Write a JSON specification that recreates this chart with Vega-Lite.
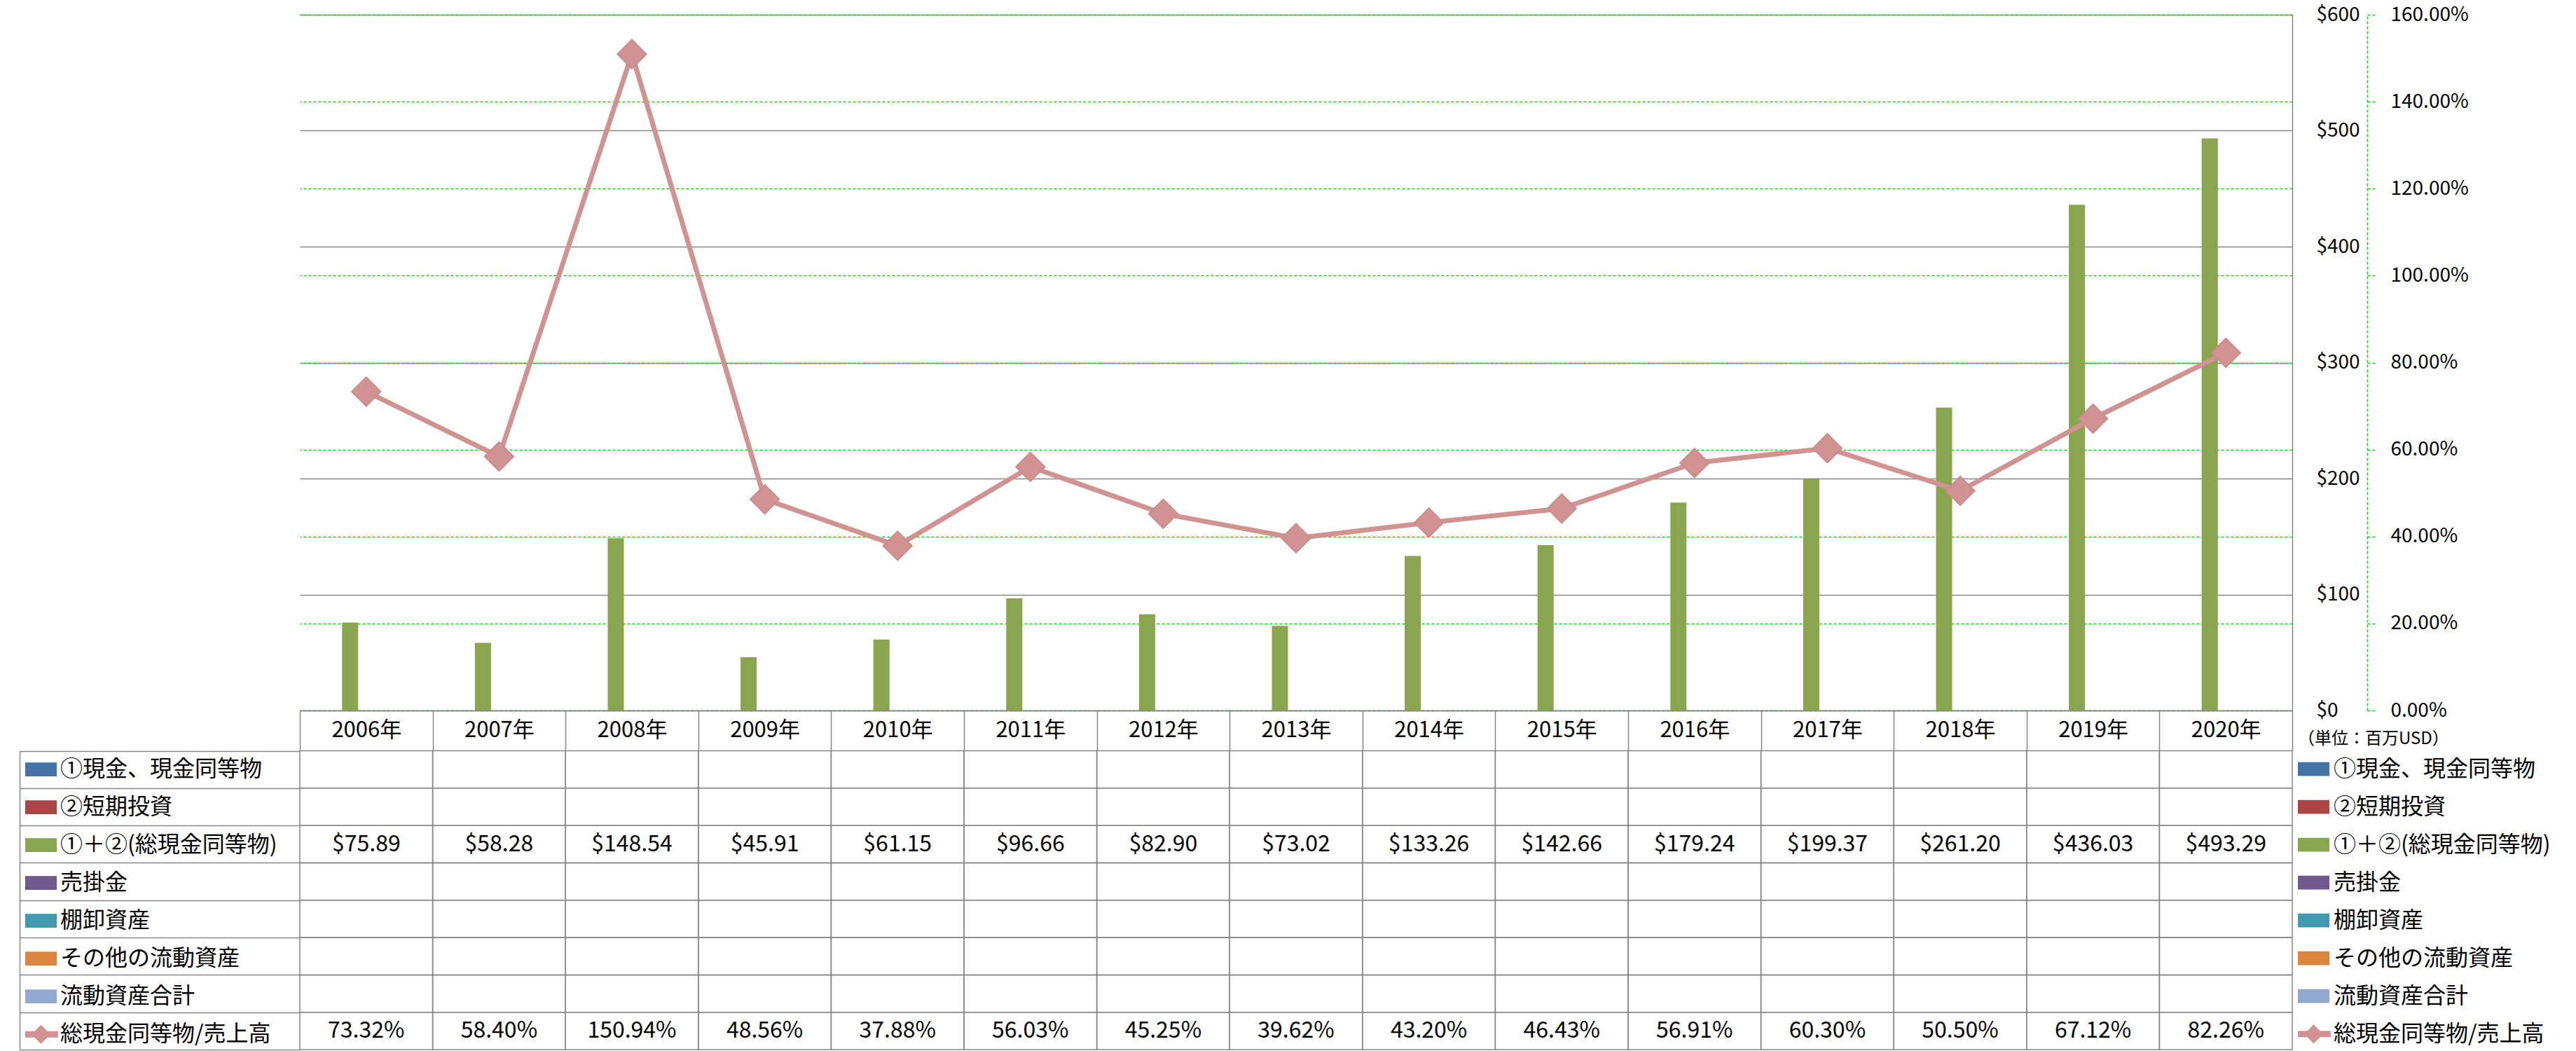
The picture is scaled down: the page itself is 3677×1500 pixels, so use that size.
{
  "$schema": "https://vega.github.io/schema/vega-lite/v6.json",
  "width": 2844,
  "height": 993,
  "autosize": {"type": "none"},
  "padding": {"left": 428, "top": 21, "right": 405, "bottom": 486},
  "background": "white",
  "config": {
    "font": "Noto Sans CJK JP",
    "view": {"stroke": null},
    "axisX": {
      "tickBand": "extent", "tickSize": 57, "tickColor": "#868686", "tickWidth": 1.5,
      "domainColor": "#868686", "domainWidth": 1.5,
      "labelFontSize": 31, "labelColor": "#000000", "labelBaseline": "middle", "labelPadding": -28.5,
      "labelAngle": 0, "grid": false, "title": null
    }
  },
  "datasets": {
    "t": [
      {"year": "2006年", "①現金、現金同等物": null, "②短期投資": null, "①＋②(総現金同等物)": 75.89, "売掛金": null, "棚卸資産": null, "その他の流動資産": null, "流動資産合計": null, "総現金同等物/売上高": 0.7332},
      {"year": "2007年", "①現金、現金同等物": null, "②短期投資": null, "①＋②(総現金同等物)": 58.28, "売掛金": null, "棚卸資産": null, "その他の流動資産": null, "流動資産合計": null, "総現金同等物/売上高": 0.5840},
      {"year": "2008年", "①現金、現金同等物": null, "②短期投資": null, "①＋②(総現金同等物)": 148.54, "売掛金": null, "棚卸資産": null, "その他の流動資産": null, "流動資産合計": null, "総現金同等物/売上高": 1.5094},
      {"year": "2009年", "①現金、現金同等物": null, "②短期投資": null, "①＋②(総現金同等物)": 45.91, "売掛金": null, "棚卸資産": null, "その他の流動資産": null, "流動資産合計": null, "総現金同等物/売上高": 0.4856},
      {"year": "2010年", "①現金、現金同等物": null, "②短期投資": null, "①＋②(総現金同等物)": 61.15, "売掛金": null, "棚卸資産": null, "その他の流動資産": null, "流動資産合計": null, "総現金同等物/売上高": 0.3788},
      {"year": "2011年", "①現金、現金同等物": null, "②短期投資": null, "①＋②(総現金同等物)": 96.66, "売掛金": null, "棚卸資産": null, "その他の流動資産": null, "流動資産合計": null, "総現金同等物/売上高": 0.5603},
      {"year": "2012年", "①現金、現金同等物": null, "②短期投資": null, "①＋②(総現金同等物)": 82.90, "売掛金": null, "棚卸資産": null, "その他の流動資産": null, "流動資産合計": null, "総現金同等物/売上高": 0.4525},
      {"year": "2013年", "①現金、現金同等物": null, "②短期投資": null, "①＋②(総現金同等物)": 73.02, "売掛金": null, "棚卸資産": null, "その他の流動資産": null, "流動資産合計": null, "総現金同等物/売上高": 0.3962},
      {"year": "2014年", "①現金、現金同等物": null, "②短期投資": null, "①＋②(総現金同等物)": 133.26, "売掛金": null, "棚卸資産": null, "その他の流動資産": null, "流動資産合計": null, "総現金同等物/売上高": 0.4320},
      {"year": "2015年", "①現金、現金同等物": null, "②短期投資": null, "①＋②(総現金同等物)": 142.66, "売掛金": null, "棚卸資産": null, "その他の流動資産": null, "流動資産合計": null, "総現金同等物/売上高": 0.4643},
      {"year": "2016年", "①現金、現金同等物": null, "②短期投資": null, "①＋②(総現金同等物)": 179.24, "売掛金": null, "棚卸資産": null, "その他の流動資産": null, "流動資産合計": null, "総現金同等物/売上高": 0.5691},
      {"year": "2017年", "①現金、現金同等物": null, "②短期投資": null, "①＋②(総現金同等物)": 199.37, "売掛金": null, "棚卸資産": null, "その他の流動資産": null, "流動資産合計": null, "総現金同等物/売上高": 0.6030},
      {"year": "2018年", "①現金、現金同等物": null, "②短期投資": null, "①＋②(総現金同等物)": 261.20, "売掛金": null, "棚卸資産": null, "その他の流動資産": null, "流動資産合計": null, "総現金同等物/売上高": 0.5050},
      {"year": "2019年", "①現金、現金同等物": null, "②短期投資": null, "①＋②(総現金同等物)": 436.03, "売掛金": null, "棚卸資産": null, "その他の流動資産": null, "流動資産合計": null, "総現金同等物/売上高": 0.6712},
      {"year": "2020年", "①現金、現金同等物": null, "②短期投資": null, "①＋②(総現金同等物)": 493.29, "売掛金": null, "棚卸資産": null, "その他の流動資産": null, "流動資産合計": null, "総現金同等物/売上高": 0.8226}
    ]
  },
  "data": {"name": "t"},
  "transform": [
    {"fold": ["①現金、現金同等物", "②短期投資", "①＋②(総現金同等物)", "売掛金", "棚卸資産", "その他の流動資産", "流動資産合計", "総現金同等物/売上高"], "as": ["series", "value"]}
  ],
  "resolve": {"scale": {"y": "independent"}},
  "layer": [
    {
      "mark": {"type": "rect", "fill": "transparent", "stroke": "#868686", "strokeWidth": 1.5},
      "encoding": {
        "x": {"field": "year", "type": "nominal", "sort": null, "scale": {"paddingInner": 0, "paddingOuter": 0}},
        "y": {"field": "series", "type": "nominal", "sort": null,
          "scale": {"domain": ["①現金、現金同等物", "②短期投資", "①＋②(総現金同等物)", "売掛金", "棚卸資産", "その他の流動資産", "流動資産合計", "総現金同等物/売上高"], "range": [1050.5, 1477], "paddingInner": 0, "paddingOuter": 0},
          "axis": {"orient": "left", "tickBand": "extent", "tickSize": 400, "tickColor": "#868686", "tickWidth": 1.5, "domain": false, "labels": false, "grid": false, "title": null}}
      }
    },
    {
      "mark": {"type": "point", "opacity": 0, "filled": true},
      "encoding": {
        "x": {"field": "year", "type": "nominal", "sort": null},
        "y": {"field": "series", "type": "nominal", "sort": null,
          "scale": {"domain": ["①現金、現金同等物", "②短期投資", "①＋②(総現金同等物)", "売掛金", "棚卸資産", "その他の流動資産", "流動資産合計", "総現金同等物/売上高"], "range": [1050.5, 1477], "paddingInner": 0, "paddingOuter": 0},
          "axis": {"orient": "left", "offset": 400, "domain": true, "domainColor": "#868686", "domainWidth": 1.5, "ticks": false, "labels": false, "grid": false, "title": null}},
        "fill": {"field": "series", "type": "nominal", "sort": null,
          "scale": {"range": ["#4572A7", "#AA4643", "#89A54E", "#71588F", "#4198AF", "#DB843D", "#93A9CF", "#D09392"]},
          "legend": {"orient": "none", "legendX": -392, "legendY": 1050.5, "title": null, "padding": 0, "clipHeight": 53.3, "rowPadding": 0,
            "symbolSize": 2025, "symbolStrokeWidth": 0, "symbolOpacity": 1, "labelFontSize": 32, "labelOffset": 5, "labelLimit": 600, "labelColor": "#000000",
            "encode": {"symbols": {"update": {
              "shape": {"signal": "datum.value === '総現金同等物/売上高' ? 'M-1.08,-0.2H-0.4L0,-0.6L0.4,-0.2H1.08V0.2H0.4L0,0.6L-0.4,0.2H-1.08Z' : 'M-1,-0.44H1V0.44H-1Z'"},
              "opacity": {"value": 1}, "fillOpacity": {"value": 1},
              "fill": {"scale": "fill", "field": "value"}}}}}}
      }
    },
    {
      "transform": [{"filter": "isValid(datum.value) && datum.series !== '総現金同等物/売上高'"}],
      "mark": {"type": "bar"},
      "encoding": {
        "x": {"field": "year", "type": "nominal", "sort": null},
        "xOffset": {"field": "series", "type": "nominal", "scale": {"domain": ["①現金、現金同等物", "②短期投資", "①＋②(総現金同等物)", "売掛金", "棚卸資産", "その他の流動資産", "流動資産合計"], "paddingInner": 0, "paddingOuter": 0.62}},
        "y": {"field": "value", "type": "quantitative",
          "scale": {"domain": [0, 600], "nice": false},
          "axis": {"orient": "right", "values": [0, 100, 200, 300, 400, 500, 600], "format": "$.0f",
            "grid": true, "gridColor": "#868686", "gridWidth": 1.5,
            "domain": true, "domainColor": "#868686", "domainWidth": 1.5,
            "ticks": false, "tickSize": 0, "labelPadding": 34, "labelAlign": "left", "labelBaseline": "middle",
            "labelFontSize": 28, "labelColor": "#000000", "title": null}},
        "color": {"field": "series", "type": "nominal",
          "scale": {"domain": ["①現金、現金同等物", "②短期投資", "①＋②(総現金同等物)", "売掛金", "棚卸資産", "その他の流動資産", "流動資産合計", "総現金同等物/売上高"], "range": ["#4572A7", "#AA4643", "#89A54E", "#71588F", "#4198AF", "#DB843D", "#93A9CF", "#D09392"]},
          "legend": {"orient": "none", "legendX": 2852, "legendY": 1022, "title": "（単位：百万USD）", "titleFontSize": 24, "titleFontWeight": "normal", "titleColor": "#000000", "titlePadding": 4, "titleLimit": 800,
            "padding": 0, "clipHeight": 53.3, "rowPadding": 0,
            "symbolSize": 2025, "symbolStrokeWidth": 0, "symbolOpacity": 1, "labelFontSize": 32, "labelOffset": 6, "labelLimit": 600, "labelColor": "#000000",
            "encode": {"symbols": {"update": {
              "shape": {"signal": "datum.value === '総現金同等物/売上高' ? 'M-1.08,-0.2H-0.4L0,-0.6L0.4,-0.2H1.08V0.2H0.4L0,0.6L-0.4,0.2H-1.08Z' : 'M-1,-0.44H1V0.44H-1Z'"},
              "opacity": {"value": 1}, "fillOpacity": {"value": 1},
              "fill": {"scale": "color", "field": "value"}, "stroke": {"value": "transparent"}}}}}}
      }
    },
    {
      "transform": [{"filter": "datum.series === '総現金同等物/売上高'"}],
      "encoding": {
        "x": {"field": "year", "type": "nominal", "sort": null},
        "y": {"field": "value", "type": "quantitative",
          "scale": {"domain": [0, 1.6], "nice": false},
          "axis": {"orient": "right", "offset": 107, "values": [0, 0.2, 0.4, 0.6, 0.8, 1.0, 1.2, 1.4, 1.6], "format": ".2%",
            "grid": true, "gridColor": "#00DD00", "gridDash": [4, 3], "gridWidth": 1.5,
            "domain": true, "domainColor": "#00DD00", "domainDash": [4, 3], "domainWidth": 1.5,
            "ticks": true, "tickSize": 12, "tickColor": "#00DD00", "tickDash": [4, 3], "tickWidth": 1.5,
            "labelPadding": 21, "labelAlign": "left", "labelBaseline": "middle",
            "labelFontSize": 28, "labelColor": "#000000", "title": null}},
        "color": {"datum": "総現金同等物/売上高", "type": "nominal",
          "scale": {"domain": ["①現金、現金同等物", "②短期投資", "①＋②(総現金同等物)", "売掛金", "棚卸資産", "その他の流動資産", "流動資産合計", "総現金同等物/売上高"], "range": ["#4572A7", "#AA4643", "#89A54E", "#71588F", "#4198AF", "#DB843D", "#93A9CF", "#D09392"]}}
      },
      "layer": [
        {"mark": {"type": "line", "strokeWidth": 7}},
        {"mark": {"type": "point", "shape": "diamond", "filled": true, "size": 1700, "opacity": 1, "stroke": "#CC8C8B", "strokeWidth": 2}}
      ]
    },
    {
      "transform": [{"filter": "datum.series === '①＋②(総現金同等物)'"}],
      "mark": {"type": "text", "fontSize": 32, "color": "#000000", "baseline": "middle", "align": "center"},
      "encoding": {
        "x": {"field": "year", "type": "nominal", "sort": null},
        "y": {"field": "series", "type": "nominal",
          "scale": {"domain": ["①現金、現金同等物", "②短期投資", "①＋②(総現金同等物)", "売掛金", "棚卸資産", "その他の流動資産", "流動資産合計", "総現金同等物/売上高"], "range": [1050.5, 1477], "paddingInner": 0, "paddingOuter": 0},
          "axis": null},
        "text": {"field": "value", "type": "quantitative", "format": "$.2f"}
      }
    },
    {
      "transform": [{"filter": "datum.series === '総現金同等物/売上高'"}],
      "mark": {"type": "text", "fontSize": 32, "color": "#000000", "baseline": "middle", "align": "center"},
      "encoding": {
        "x": {"field": "year", "type": "nominal", "sort": null},
        "y": {"field": "series", "type": "nominal",
          "scale": {"domain": ["①現金、現金同等物", "②短期投資", "①＋②(総現金同等物)", "売掛金", "棚卸資産", "その他の流動資産", "流動資産合計", "総現金同等物/売上高"], "range": [1050.5, 1477], "paddingInner": 0, "paddingOuter": 0},
          "axis": null},
        "text": {"field": "value", "type": "quantitative", "format": ".2%"}
      }
    }
  ]
}
